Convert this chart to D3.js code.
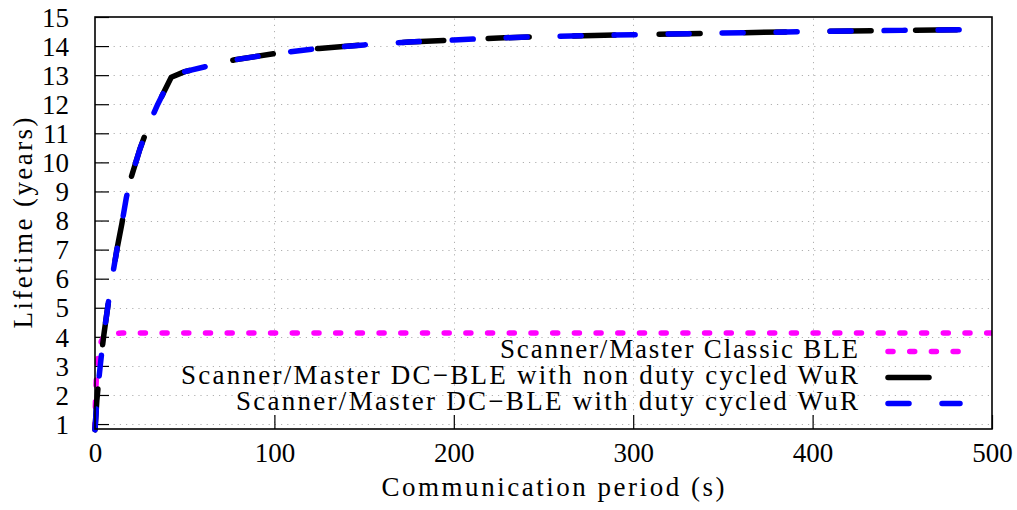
<!DOCTYPE html>
<html>
<head>
<meta charset="utf-8">
<script src="https://cdn.jsdelivr.net/npm/d3@7"></script>
</head>
<body style="margin:0">
<svg id="chart" width="1017" height="510" font-family="Liberation Serif, Tinos, Times New Roman, serif" style="font-family:'Liberation Serif'"></svg>
<script>
// Axis ticks
const xTicks = [0, 100, 200, 300, 400, 500];
const yTicks = [1, 2, 3, 4, 5, 6, 7, 8, 9, 10, 11, 12, 13, 14, 15];

// Scanner/Master Classic BLE
const classicPeriod   = [0, 0.3, 1, 2, 2.6, 3.5, 5, 8, 15, 50, 100, 200, 300, 400, 500];
const classicLifetime = [0.85, 2.0, 2.86, 3.4, 3.6, 3.85, 4.02, 4.1, 4.13, 4.13, 4.13, 4.13, 4.13, 4.13, 4.13];

// Scanner/Master DC-BLE with non duty cycled WuR
const nonDutyPeriod   = [0, 1, 2, 3, 4, 5, 7.5, 10, 12.5, 15, 17.5, 20, 25, 30, 35, 42.5, 50, 62, 78, 100, 125, 150, 175, 200, 225, 250, 300, 350, 400, 450, 500];
const nonDutyLifetime = [0.8, 1.8, 2.45, 3.05, 3.6, 4.1, 5.2, 6.2, 7.1, 7.9, 8.8, 9.45, 10.45, 11.3, 12.0, 12.93, 13.12, 13.3, 13.53, 13.74, 13.92, 14.04, 14.14, 14.21, 14.28, 14.33, 14.39, 14.45, 14.5, 14.54, 14.58];

// Scanner/Master DC-BLE with duty cycled WuR
const dutyPeriod   = [0, 1, 2, 3, 4, 5, 7.5, 10, 12.5, 15, 17.5, 20, 25, 30, 35, 42.5, 50, 62, 78, 100, 125, 150, 175, 200, 225, 250, 300, 350, 400, 450, 500];
const dutyLifetime = [0.8, 1.8, 2.45, 3.05, 3.6, 4.1, 5.2, 6.2, 7.1, 7.9, 8.8, 9.45, 10.45, 11.3, 12.0, 12.93, 13.12, 13.3, 13.53, 13.74, 13.92, 14.04, 14.14, 14.21, 14.28, 14.33, 14.39, 14.45, 14.5, 14.54, 14.58];

const seriesNames = [
  "Scanner/Master Classic BLE",
  "Scanner/Master DC\u2212BLE with non duty cycled WuR",
  "Scanner/Master DC\u2212BLE with duty cycled WuR"
];

const svg = d3.select("#chart");
const margin = { left: 95, right: 25, top: 17, bottom: 81 };
const W = 1017, H = 510;
const x0 = margin.left, x1 = W - margin.right;
const y0 = H - margin.bottom, y1 = margin.top;

const x = d3.scaleLinear().domain([0, 500]).range([x0, x1]);
const y = d3.scaleLinear().domain([0.83, 15]).range([y0, y1]);

// Serif face for every label
const serif = sel => sel
  .attr("font-family", "Liberation Serif")
  .style("font-family", "'Liberation Serif'")
  .style("font-size", "27px")
  .style("fill", "#000");

// Dotted grid
const grid = svg.append("g").attr("stroke", "#b0b0b0").attr("stroke-width", 1)
  .attr("stroke-dasharray", "1.2,5");
grid.selectAll("line.gy").data(yTicks.filter(v => v < 15)).join("line")
  .attr("x1", x0).attr("x2", x1)
  .attr("y1", d => Math.round(y(d)) + 0.5).attr("y2", d => Math.round(y(d)) + 0.5);
grid.selectAll("line.gx").data(xTicks.filter(v => v > 0 && v < 500)).join("line")
  .attr("y1", y0).attr("y2", y1)
  .attr("x1", d => Math.round(x(d)) + 0.5).attr("x2", d => Math.round(x(d)) + 0.5);

// Axes with inward ticks
const yAxis = d3.axisLeft(y).tickValues(yTicks).tickSize(-14).tickPadding(26).tickFormat(d3.format("d"));
const xAxis = d3.axisBottom(x).tickValues(xTicks).tickSize(-14).tickPadding(14).tickFormat(d3.format("d"));

const gy = svg.append("g").attr("transform", `translate(${x0},0)`).call(yAxis);
const gx = svg.append("g").attr("transform", `translate(0,${y0})`).call(xAxis);
[gy, gx].forEach(g => {
  g.attr("font-family", null).attr("font-size", null);
  g.select(".domain").remove();
  g.selectAll(".tick line").attr("stroke", "#000").attr("stroke-width", 1.2);
  g.selectAll(".tick text").call(serif);
});
gy.selectAll(".tick text").attr("dy", "0.34em");
gx.selectAll(".tick text").attr("dy", "0.71em");

// Series lines
const line = d3.line().x(d => x(d[0])).y(d => y(d[1]));
const series = [
  { period: classicPeriod, lifetime: classicLifetime, color: "#ff00ff", dash: "5,16.7" },
  { period: nonDutyPeriod, lifetime: nonDutyLifetime, color: "#000000", dash: "41,44.5" },
  { period: dutyPeriod, lifetime: dutyLifetime, color: "#0000ff", dash: "21,33" }
];

svg.append("clipPath").attr("id", "plotClip")
  .append("rect").attr("x", x0 - 4).attr("y", y1).attr("width", x1 - x0 + 4).attr("height", y0 - y1 + 4);

const plot = svg.append("g").attr("clip-path", "url(#plotClip)");
series.forEach(s => {
  plot.append("path")
    .datum(s.period.map((p, i) => [p, s.lifetime[i]]))
    .attr("d", line)
    .attr("fill", "none")
    .attr("stroke", s.color)
    .attr("stroke-width", 5.5)
    .attr("stroke-linecap", "round")
    .attr("stroke-linejoin", "round")
    .attr("stroke-dasharray", s.dash);
});

// Legend (bottom right, inside the plot)
const legend = svg.append("g");
const legendRight = 858, sampleX1 = 888, sampleX2 = 960;
const rowBase = [358, 384, 410];
const rowWidth = [358, 677, 622];
series.forEach((s, i) => {
  legend.append("text")
    .attr("x", legendRight).attr("y", rowBase[i])
    .attr("text-anchor", "end")
    .attr("textLength", rowWidth[i]).attr("lengthAdjust", "spacing")
    .call(serif)
    .text(seriesNames[i]);
  legend.append("line")
    .attr("x1", sampleX1).attr("x2", sampleX2)
    .attr("y1", rowBase[i] - 6.5).attr("y2", rowBase[i] - 6.5)
    .attr("stroke", s.color).attr("stroke-width", 5.5)
    .attr("stroke-linecap", "round")
    .attr("stroke-dasharray", s.dash);
});

// Frame
svg.append("rect").attr("x", x0).attr("y", y1).attr("width", x1 - x0).attr("height", y0 - y1)
  .attr("fill", "none").attr("stroke", "#000").attr("stroke-width", 1.6);

// Axis titles
svg.append("text").attr("x", 553).attr("y", 496).attr("text-anchor", "middle")
  .attr("textLength", 343).attr("lengthAdjust", "spacing")
  .call(serif).text("Communication period (s)");
svg.append("text").attr("transform", `translate(32,${(y0 + y1) / 2}) rotate(-90)`)
  .attr("text-anchor", "middle")
  .attr("textLength", 211).attr("lengthAdjust", "spacing")
  .call(serif).text("Lifetime (years)");
</script>
</body>
</html>
